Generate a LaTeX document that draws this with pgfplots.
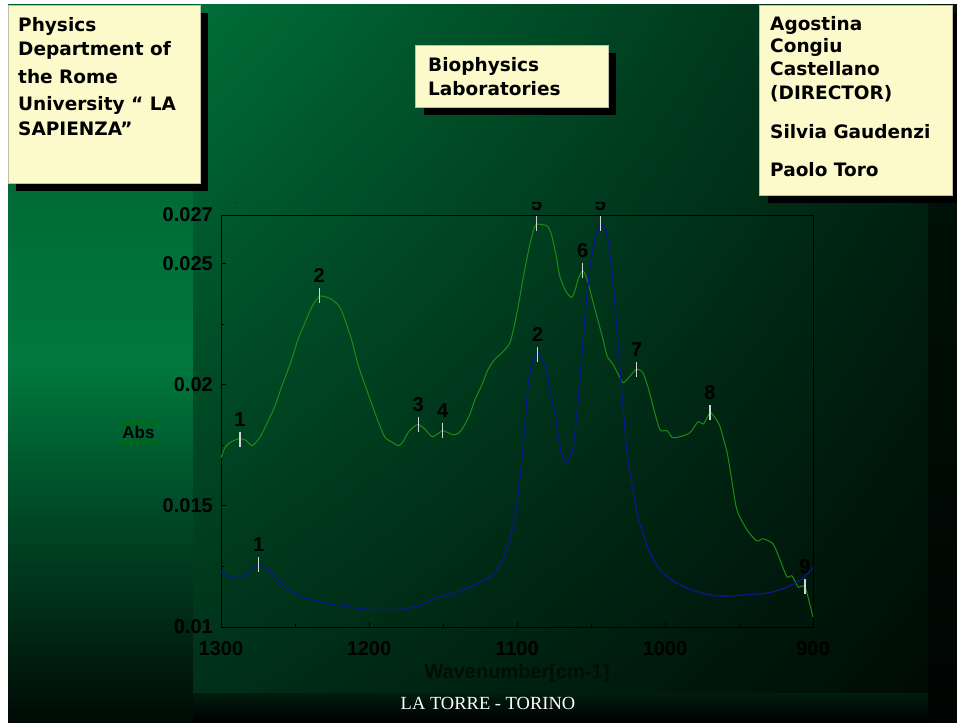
\documentclass[border=0pt]{standalone}
\usepackage{pgfplots}
\pgfplotsset{compat=1.18}
\usetikzlibrary{shadings}
\usepackage{fontspec}
\setmainfont{Liberation Serif}
\newfontfamily\boxfont{DejaVu Sans}
\newfontfamily\chartfont{Liberation Sans}
\definecolor{lsTop}{RGB}{0,92,47}
\definecolor{lsMid}{RGB}{0,120,62}
\definecolor{lsBot}{RGB}{0,10,5}
\definecolor{pUL}{RGB}{0,110,56}
\definecolor{pUR}{RGB}{0,40,20}
\definecolor{pLL}{RGB}{0,48,24}
\definecolor{pLR}{RGB}{0,12,6}
\definecolor{rsTop}{RGB}{0,22,11}
\definecolor{rsBot}{RGB}{0,4,2}
\definecolor{bsL}{RGB}{0,30,15}
\definecolor{bsR}{RGB}{0,6,3}
\definecolor{boxfill}{RGB}{252,250,202}
\definecolor{boxline}{RGB}{190,190,170}
\definecolor{gline}{RGB}{30,140,20}
\definecolor{bline}{RGB}{10,25,135}
\definecolor{markgray}{RGB}{212,212,212}
\definecolor{absgreen}{RGB}{0,110,0}
\definecolor{xlab}{RGB}{2,14,6}
\newcommand\bx{\boxfont\bfseries\fontsize{18.5}{22}\selectfont}
\newcommand\ch[1]{\chartfont\bfseries\fontsize{#1}{#1}\selectfont}
\begin{document}
\begin{tikzpicture}[x=1pt,y=1pt]
\useasboundingbox (0,0) rectangle (957,722);
\fill[black] (0,0) rectangle (957,722);
\fill[white] (0,717) rectangle (957,722);
\fill[white] (0,0) rectangle (8,722);
% slide background pieces
\shade[top color=lsTop, bottom color=lsBot, middle color=lsMid] (8,0) rectangle (193,717);
\shade[top color=rsTop, bottom color=rsBot] (928,0) rectangle (957,717);
\shade[top color=bsL, bottom color=black] (193,0) rectangle (928,30);
\shade[upper left=pUL, upper right=pUR, lower left=pLL, lower right=pLR] (193,30) rectangle (928,717);
% footer
\node[anchor=base, text=white, inner sep=0pt, font=\fontsize{18.5}{22}\selectfont] at (488,13) {LA TORRE - TORINO};
% box 1
\fill[black] (16,531) rectangle (208,709);
\filldraw[fill=boxfill, draw=boxline, line width=0.7pt] (8,539) rectangle (200,717);
\node[anchor=base west, inner sep=0pt, font=\bx] at (18,690.4) {Physics};
\node[anchor=base west, inner sep=0pt, font=\bx] at (18,666.4) {Department of};
\node[anchor=base west, inner sep=0pt, font=\bx] at (18,638.7) {the Rome};
\node[anchor=base west, inner sep=0pt, font=\bx] at (18,611.4) {University “ LA};
\node[anchor=base west, inner sep=0pt, font=\bx] at (18,586) {SAPIENZA”};
% box 2
\fill[black] (424,607) rectangle (616,669);
\filldraw[fill=boxfill, draw=boxline, line width=0.7pt] (415,615) rectangle (608,677);
\node[anchor=base west, inner sep=0pt, font=\bx] at (428,650.4) {Biophysics};
\node[anchor=base west, inner sep=0pt, font=\bx] at (428,626) {Laboratories};
% box 3
\fill[black] (768,519) rectangle (957,709);
\filldraw[fill=boxfill, draw=boxline, line width=0.7pt] (759,527) rectangle (952,717);
\node[anchor=base west, inner sep=0pt, font=\bx] at (770,691.4) {Agostina};
\node[anchor=base west, inner sep=0pt, font=\bx] at (770,669.4) {Congiu};
\node[anchor=base west, inner sep=0pt, font=\bx] at (770,646.4) {Castellano};
\node[anchor=base west, inner sep=0pt, font=\bx] at (770,622.7) {(DIRECTOR)};
\node[anchor=base west, inner sep=0pt, font=\bx] at (770,583.7) {Silvia Gaudenzi};
\node[anchor=base west, inner sep=0pt, font=\bx] at (770,545.4) {Paolo Toro};
% chart
\begin{scope}
\clip (0,0) rectangle (957,519);
\begin{axis}[
  at={(221pt,95pt)}, anchor=south west,
  scale only axis, width=592pt, height=412pt,
  xmin=900, xmax=1300, x dir=reverse,
  ymin=0.01, ymax=0.027,
  clip=false,
  axis line style={black, line width=0.9pt},
  tick pos=left,
  tick align=inside,
  major tick length=5pt, minor tick length=3pt,
  tick style={black, line width=0.8pt},
  xtick={900,1000,1100,1200,1300},
  xticklabels={900,1000,1100,1200,1300},
  minor xtick={950,1050,1150,1250},
  ytick={0.01,0.015,0.02,0.025,0.027},
  yticklabels={0.01,0.015,0.02,0.025,0.027},
  minor ytick={0.0125,0.0175,0.0225},
  tick label style={font=\ch{20}, text=black},
  xticklabel style={anchor=north, inner sep=0pt, yshift=-14pt},
  yticklabel style={anchor=east, inner sep=0pt, xshift=-8pt},
  xlabel={Wavenumber[cm-1]},
  xlabel style={at={(axis description cs:0.5,-0.1117)}, anchor=center, font=\ch{20}, text=xlab},
  ylabel={Abs},
  ylabel style={at={(axis description cs:-0.1394,0.473)}, rotate=-90, anchor=center, draw=absgreen, line width=0.7pt, inner xsep=3pt, inner ysep=4pt, font=\ch{17}, text=black},
]
\addplot[gline, line width=1pt, smooth, tension=0.4] coordinates {
(1300,0.01698) (1297.3,0.01740) (1293,0.01765) (1287.2,0.01777) (1283,0.01770)
(1279,0.01748) (1274,0.01780) (1270,0.01826) (1264,0.01905) (1259,0.01992)
(1253,0.02090) (1248,0.02186) (1243,0.02260) (1238.5,0.02322) (1233.6,0.02364)
(1229,0.02362) (1225,0.02351) (1221,0.02330) (1218,0.02298) (1212,0.02190)
(1207,0.02074) (1201,0.01970) (1196,0.01884) (1192,0.01820) (1189,0.01781)
(1185,0.01765) (1180,0.01748) (1177,0.01765) (1173.6,0.01802) (1170,0.01825)
(1166.7,0.01836) (1162,0.01815) (1157.4,0.01785) (1154,0.01795) (1150.2,0.01810)
(1146,0.01800) (1143,0.01793) (1139.5,0.01800) (1136.5,0.01822) (1132,0.01875)
(1128.4,0.01938) (1124,0.01995) (1119.6,0.02062) (1115,0.02105) (1110,0.02132)
(1104.7,0.02174) (1101.4,0.02256) (1099,0.02330) (1096,0.02434) (1093,0.02530)
(1091,0.02587) (1088.5,0.02645) (1086.7,0.02663) (1083,0.02660) (1080,0.02657)
(1078,0.02640) (1076.4,0.02612) (1073.5,0.02530) (1071,0.02446) (1067,0.02385)
(1063,0.02360) (1060.5,0.02395) (1058.8,0.02434) (1055.6,0.02471) (1052.7,0.02434)
(1049,0.02350) (1046,0.02281) (1042,0.02190) (1039,0.02116) (1035,0.02083)
(1031,0.02035) (1028,0.02008) (1023,0.02040) (1019.1,0.02064) (1015,0.02050)
(1011,0.01980) (1008,0.01909) (1003.4,0.01814) (998.6,0.01810) (995,0.01782)
(990,0.01785) (983,0.01802) (977.7,0.01847) (974,0.01838) (969.6,0.01884)
(966,0.01862) (962.8,0.01826) (958,0.01719) (955,0.01610) (951.4,0.01483)
(944.6,0.01401) (938,0.01355) (933.8,0.01364) (927,0.01343) (922.3,0.01277)
(917.6,0.01207) (914.2,0.01211) (910,0.01165) (905.4,0.01165) (900,0.01041)
};
\addplot[bline, line width=1.3pt, smooth, tension=0.4] coordinates {
(1300,0.01227) (1295,0.01210) (1289,0.01202) (1285,0.01208) (1281.8,0.01227)
(1278,0.01245) (1274.5,0.01258) (1271,0.01250) (1268,0.01236) (1263,0.01205)
(1256.8,0.01165) (1251,0.01143) (1245,0.01124) (1238,0.01112) (1229.7,0.01099)
(1222,0.01090) (1214,0.01083) (1202.7,0.01074) (1190,0.01072) (1177.7,0.01074)
(1172,0.01080) (1167,0.01087) (1161,0.01102) (1155.4,0.01120) (1148,0.01132)
(1142,0.01140) (1134,0.01160) (1126.4,0.01182) (1120,0.01200) (1115,0.01223)
(1111,0.01258) (1108,0.01306) (1104.5,0.01370) (1101.4,0.01455) (1099,0.01560)
(1096.6,0.01698) (1094.5,0.01840) (1092.6,0.01992) (1090,0.02080) (1088,0.02120)
(1086,0.02126) (1083.5,0.02110) (1081,0.02074) (1077.5,0.01975) (1074,0.01868)
(1070.5,0.01730) (1067,0.01678) (1064.5,0.01700) (1062,0.01744) (1059.5,0.01880)
(1057.4,0.02030) (1054,0.02281) (1050.7,0.02488) (1047,0.02612) (1043.7,0.02663)
(1041,0.02645) (1039,0.02612) (1035,0.02421) (1030.4,0.02060) (1025.7,0.01720)
(1022,0.01580) (1019,0.01471) (1012,0.01330) (1006,0.01260) (1001.4,0.01223)
(993,0.01185) (985,0.01161) (975,0.01140) (964.9,0.01128) (955,0.01128)
(947.3,0.01132) (938,0.01136) (931,0.01140) (924,0.01150) (917.6,0.01165)
(912,0.01180) (906.8,0.01202) (900,0.01245)
};
\addplot[only marks, mark=|, mark size=7.5pt, mark options={draw=markgray, line width=1.5pt},
  nodes near coords, point meta=explicit symbolic,
  nodes near coords style={anchor=center, yshift=20pt, inner sep=0pt, font=\ch{20}, text=black}]
coordinates {
(1287.2,0.01775)[1] (1233.6,0.02366)[2] (1166.7,0.01835)[3] (1150.2,0.01812)[4]
(1086.7,0.02663)[5] (1055.6,0.02471)[6] (1019.1,0.02064)[7] (969.6,0.01884)[8]
(905.4,0.01167)[9]
(1274.5,0.01258)[1] (1086,0.02124)[2] (1043.7,0.02663)[5]
};
\end{axis}
\end{scope}
\end{tikzpicture}
\end{document}
